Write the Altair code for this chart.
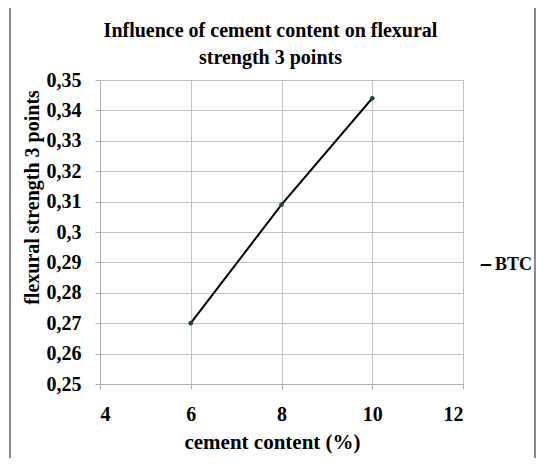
import altair as alt
import pandas as pd

cement = [6, 8, 10]
strength = [0.270, 0.309, 0.344]
series = ["BTC", "BTC", "BTC"]
x_ticks = [4, 6, 8, 10, 12]
y_ticks = [0.25, 0.26, 0.27, 0.28, 0.29, 0.30, 0.31, 0.32, 0.33, 0.34, 0.35]

df = pd.DataFrame({"cement": cement, "strength": strength, "series": series})

FONT = "Liberation Serif"

x = alt.X(
    "cement:Q",
    scale=alt.Scale(domain=[4, 12], nice=False, zero=False),
    axis=alt.Axis(
        values=x_ticks, tickCount=len(x_ticks),
        title="cement content (%)",
        titleX=172, titleY=58, titleAlign="center", titleBaseline="middle", titleFontSize=21,
        labelFontSize=20, labelPadding=15, tickSize=5, labelOverlap=False,
    ),
)
y = alt.Y(
    "strength:Q",
    scale=alt.Scale(domain=[0.25, 0.35], nice=False, zero=False),
    axis=alt.Axis(
        values=y_ticks, tickCount=len(y_ticks),
        labelExpr="replace(format(datum.value, '.2~f'), '.', ',')",
        title="flexural strength 3 points",
        titleX=-68, titleY=117, titleAngle=-90, titleAlign="center", titleBaseline="middle", titleFontSize=20,
        labelFontSize=20, labelPadding=14, tickSize=5, labelOverlap=False,
    ),
)
color = alt.Color(
    "series:N",
    scale=alt.Scale(range=["#000000"]),
    legend=alt.Legend(
        title=None, orient="none", legendX=377, legendY=176,
        symbolType="stroke", symbolStrokeWidth=2, symbolSize=110,
        labelFontSize=18, labelFont=FONT, labelFontWeight="bold", labelOffset=0,
        labelColor="#000000",
    ),
)

line = alt.Chart(df).mark_line(strokeWidth=2).encode(x=x, y=y, color=color)
pts = alt.Chart(df).mark_point(filled=True, size=22, color="#1d4a38", opacity=1).encode(x="cement:Q", y="strength:Q")

frame = alt.Chart(df).mark_rect(fill=None, stroke="#8a8a8a", strokeWidth=1.5, clip=False).encode(
    x=alt.value(-90), x2=alt.value(435), y=alt.value(-73), y2=alt.value(390)
)

chart = alt.layer(line, pts, frame).properties(
    width=363,
    height=304,
    title=alt.TitleParams(
        text=["Influence of cement content on flexural", "strength 3 points"],
        font=FONT, fontSize=20, fontWeight="bold", color="#000000",
        anchor="middle", dx=-11, offset=-62, lineHeight=27,
    ),
    autosize=alt.AutoSizeParams(type="none"),
    padding={"left": 92, "top": 72, "right": 73, "bottom": 74},
    background="white",
).configure_axis(
    labelFont=FONT, labelFontWeight="bold", labelColor="#000000",
    titleFont=FONT, titleFontWeight="bold", titleColor="#000000",
    gridColor="#c4c4c4", gridWidth=1, domainColor="#b0b0b0", tickColor="#b0b0b0",
).configure_view(stroke="#c4c4c4")

chart.save("out.html", embed_options={"renderer": "svg", "actions": False})
